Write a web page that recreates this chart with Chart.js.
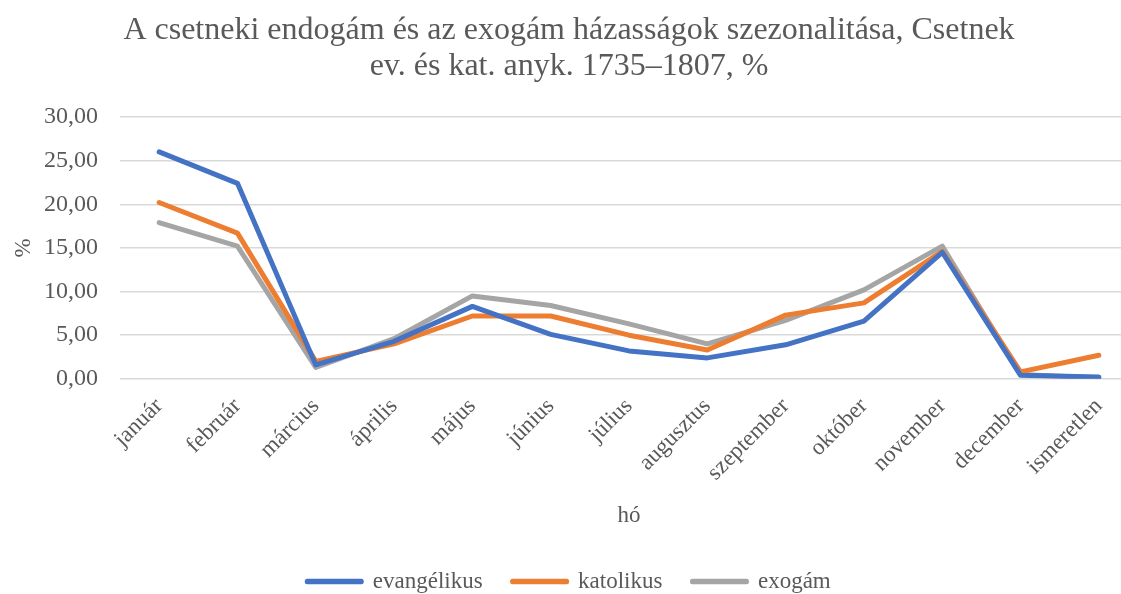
<!DOCTYPE html>
<html>
<head>
<meta charset="utf-8">
<script src="https://cdn.jsdelivr.net/npm/chart.js@4"></script>
<style>
  html, body { margin: 0; padding: 0; background: #fff; overflow: hidden; }
  #wrap { width: 1138px; height: 594px; }
</style>
</head>
<body>
<div id="wrap"><canvas id="chart" width="1138" height="594"></canvas></div>
<script>
const months = ["január", "február", "március", "április", "május", "június", "július",
  "augusztus", "szeptember", "október", "november", "december", "ismeretlen"];
const evangelikus = [26.0, 22.4, 1.6, 4.3, 8.3, 5.1, 3.2, 2.4, 3.9, 6.6, 14.5, 0.4, 0.2];
const katolikus = [20.2, 16.7, 2.0, 4.0, 7.2, 7.2, 5.0, 3.3, 7.3, 8.7, 14.6, 0.8, 2.7];
const exogam = [17.9, 15.2, 1.3, 4.6, 9.5, 8.4, 6.3, 4.0, 6.7, 10.2, 15.2, 0.5, 0.1];
const yTicks = [0, 5, 10, 15, 20, 25, 30];

const FONT = "'Liberation Serif', 'Times New Roman', serif";
const TEXT = "#595959";

function fmt(v){
  return Number(v).toFixed(2).replace(".", ",");
}

function series(label, data, color){
  return {
    label,
    data,
    borderColor: color,
    backgroundColor: color,
    borderWidth: 5,
    borderCapStyle: "round",
    borderJoinStyle: "round",
    pointRadius: 0,
    tension: 0,
    fill: false
  };
}

const ctx = document.getElementById("chart").getContext("2d");
new Chart(ctx, {
  type: "line",
  data: {
    labels: months,
    datasets: [
      series("evangélikus", evangelikus, "#4472C4"),
      series("katolikus", katolikus, "#ED7D31"),
      series("exogám", exogam, "#A5A5A5")
    ]
  },
  options: {
    responsive: false,
    animation: false,
    layout: { padding: { top: 13, left: 0, right: 0, bottom: -9 } },
    scales: {
      x: {
        offset: true,
        grid: { display: false, drawTicks: false },
        border: { display: false },
        ticks: {
          autoSkip: false, maxRotation: 45, minRotation: 45, padding: 14,
          color: TEXT, font: { family: FONT, size: 23 }
        },
        title: {
          display: true, text: "hó", color: TEXT,
          font: { family: FONT, size: 23 }, padding: { top: 2, bottom: 10 }
        }
      },
      y: {
        min: 0, max: 30,
        afterBuildTicks: (axis) => { axis.ticks = yTicks.map(v => ({ value: v })); },
        afterFit: (axis) => { axis.width = 120; },
        grid: { color: "#D9D9D9", lineWidth: 1.5, drawTicks: false },
        border: { display: false },
        ticks: {
          padding: 22, color: TEXT,
          font: { family: FONT, size: 24 },
          callback: (v) => fmt(v)
        },
        title: {
          display: true, text: "%", color: TEXT,
          font: { family: FONT, size: 23 }, padding: { top: 10, bottom: 0 }
        }
      }
    },
    plugins: {
      title: {
        display: true,
        text: ["A csetneki endogám és az exogám házasságok szezonalitása, Csetnek",
               "ev. és kat. anyk. 1735–1807, %"],
        color: TEXT,
        font: { family: FONT, size: 32, weight: "normal", lineHeight: 1.125 },
        padding: { top: 0, bottom: 32 }
      },
      legend: {
        position: "bottom",
        labels: {
          boxWidth: 54, boxHeight: 0.5, padding: 30,
          color: TEXT, font: { family: FONT, size: 23 }
        }
      },
      tooltip: { enabled: false }
    }
  }
});
</script>
</body>
</html>
